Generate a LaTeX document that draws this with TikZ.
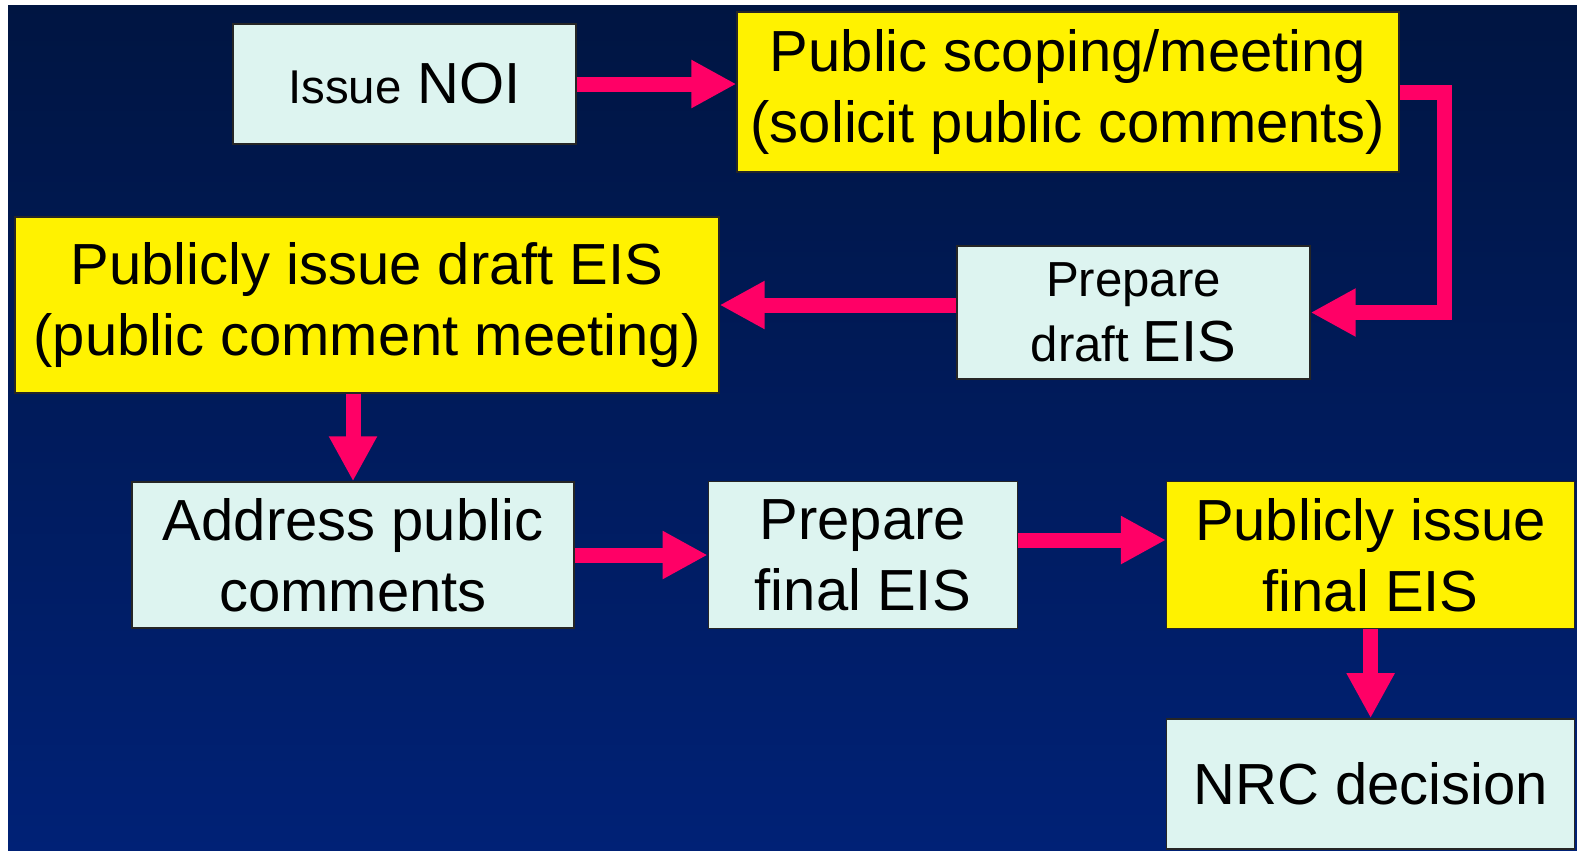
\documentclass[tikz,border=0pt]{standalone}
\usepackage{fontspec}
\setmainfont{Liberation Sans}
\usetikzlibrary{positioning, arrows.meta}
\definecolor{navytop}{RGB}{0,21,66}
\definecolor{navybot}{RGB}{0,33,118}
\definecolor{palecyan}{RGB}{221,244,240}
\definecolor{arrowpink}{RGB}{255,0,102}

\begin{document}
\begin{tikzpicture}[
                 x = 0.02cm, y = -0.02cm,
     node distance = 2.66cm and 2.66cm,
        box/.style = {rectangle, draw=black!85, line width=0.8pt, inner sep=0pt,
                      align=center, font=\fontsize{33}{40.5}\selectfont},
       cbox/.style = {box, fill=palecyan},
       ybox/.style = {box, fill=yellow},
       flow/.style = {draw=arrowpink, line width=0.3cm, line join=miter,
                      -{Triangle[width=0.9cm, length=0.9cm]}}
                        ]
\useasboundingbox (0,0) rectangle (1577,850);
\shade[top color=navytop, bottom color=navybot] (8,5) rectangle (1577,850);

\node (noi)      [cbox, minimum width=6.86cm, minimum height=2.4cm] at (404.5,84)
    {{\fontsize{27}{32}\selectfont Issue} NOI};
\node (scoping)  [ybox, minimum width=13.24cm, minimum height=3.2cm] at (1068,92)
    {Public scoping/meeting\\(solicit public comments)};
\node (prepdraft)[cbox, minimum width=7.06cm, minimum height=2.66cm,
                  font=\fontsize{28}{37}\selectfont] at (1133.5,312.5)
    {Prepare\\draft {\fontsize{33}{37}\selectfont EIS}};
\node (pubdraft) [ybox, minimum width=14.08cm, minimum height=3.52cm] at (367,305)
    {Publicly issue draft EIS\\(public comment meeting)};
\node (address)  [cbox, minimum width=8.84cm, minimum height=2.92cm] at (353,555)
    {Address public\\comments};
\node (prepfinal)[cbox, minimum width=6.18cm, minimum height=2.94cm, right=2.66cm of address]
    {Prepare\\final EIS};
\node (pubfinal) [ybox, minimum width=8.16cm, minimum height=2.94cm, right=2.96cm of prepfinal]
    {Publicly issue\\final EIS};
\node (nrc)      [cbox, minimum width=8.16cm, minimum height=2.6cm, below=1.78cm of pubfinal]
    {NRC decision};

\draw[flow] (noi.east) -- (scoping.west |- noi.east);
\draw[flow] (scoping.east) -- ++(45,0) |- (prepdraft.east);
\draw[flow] (prepdraft.west |- pubdraft.east) -- (pubdraft.east);
\draw[flow] (address.north |- pubdraft.south) -- (address.north);
\draw[flow] (address) -- (prepfinal);
\draw[flow] ([yshift=0.3cm]prepfinal.east) -- ([yshift=0.3cm]pubfinal.west);
\draw[flow] (pubfinal) -- (nrc);
\end{tikzpicture}
\end{document}
